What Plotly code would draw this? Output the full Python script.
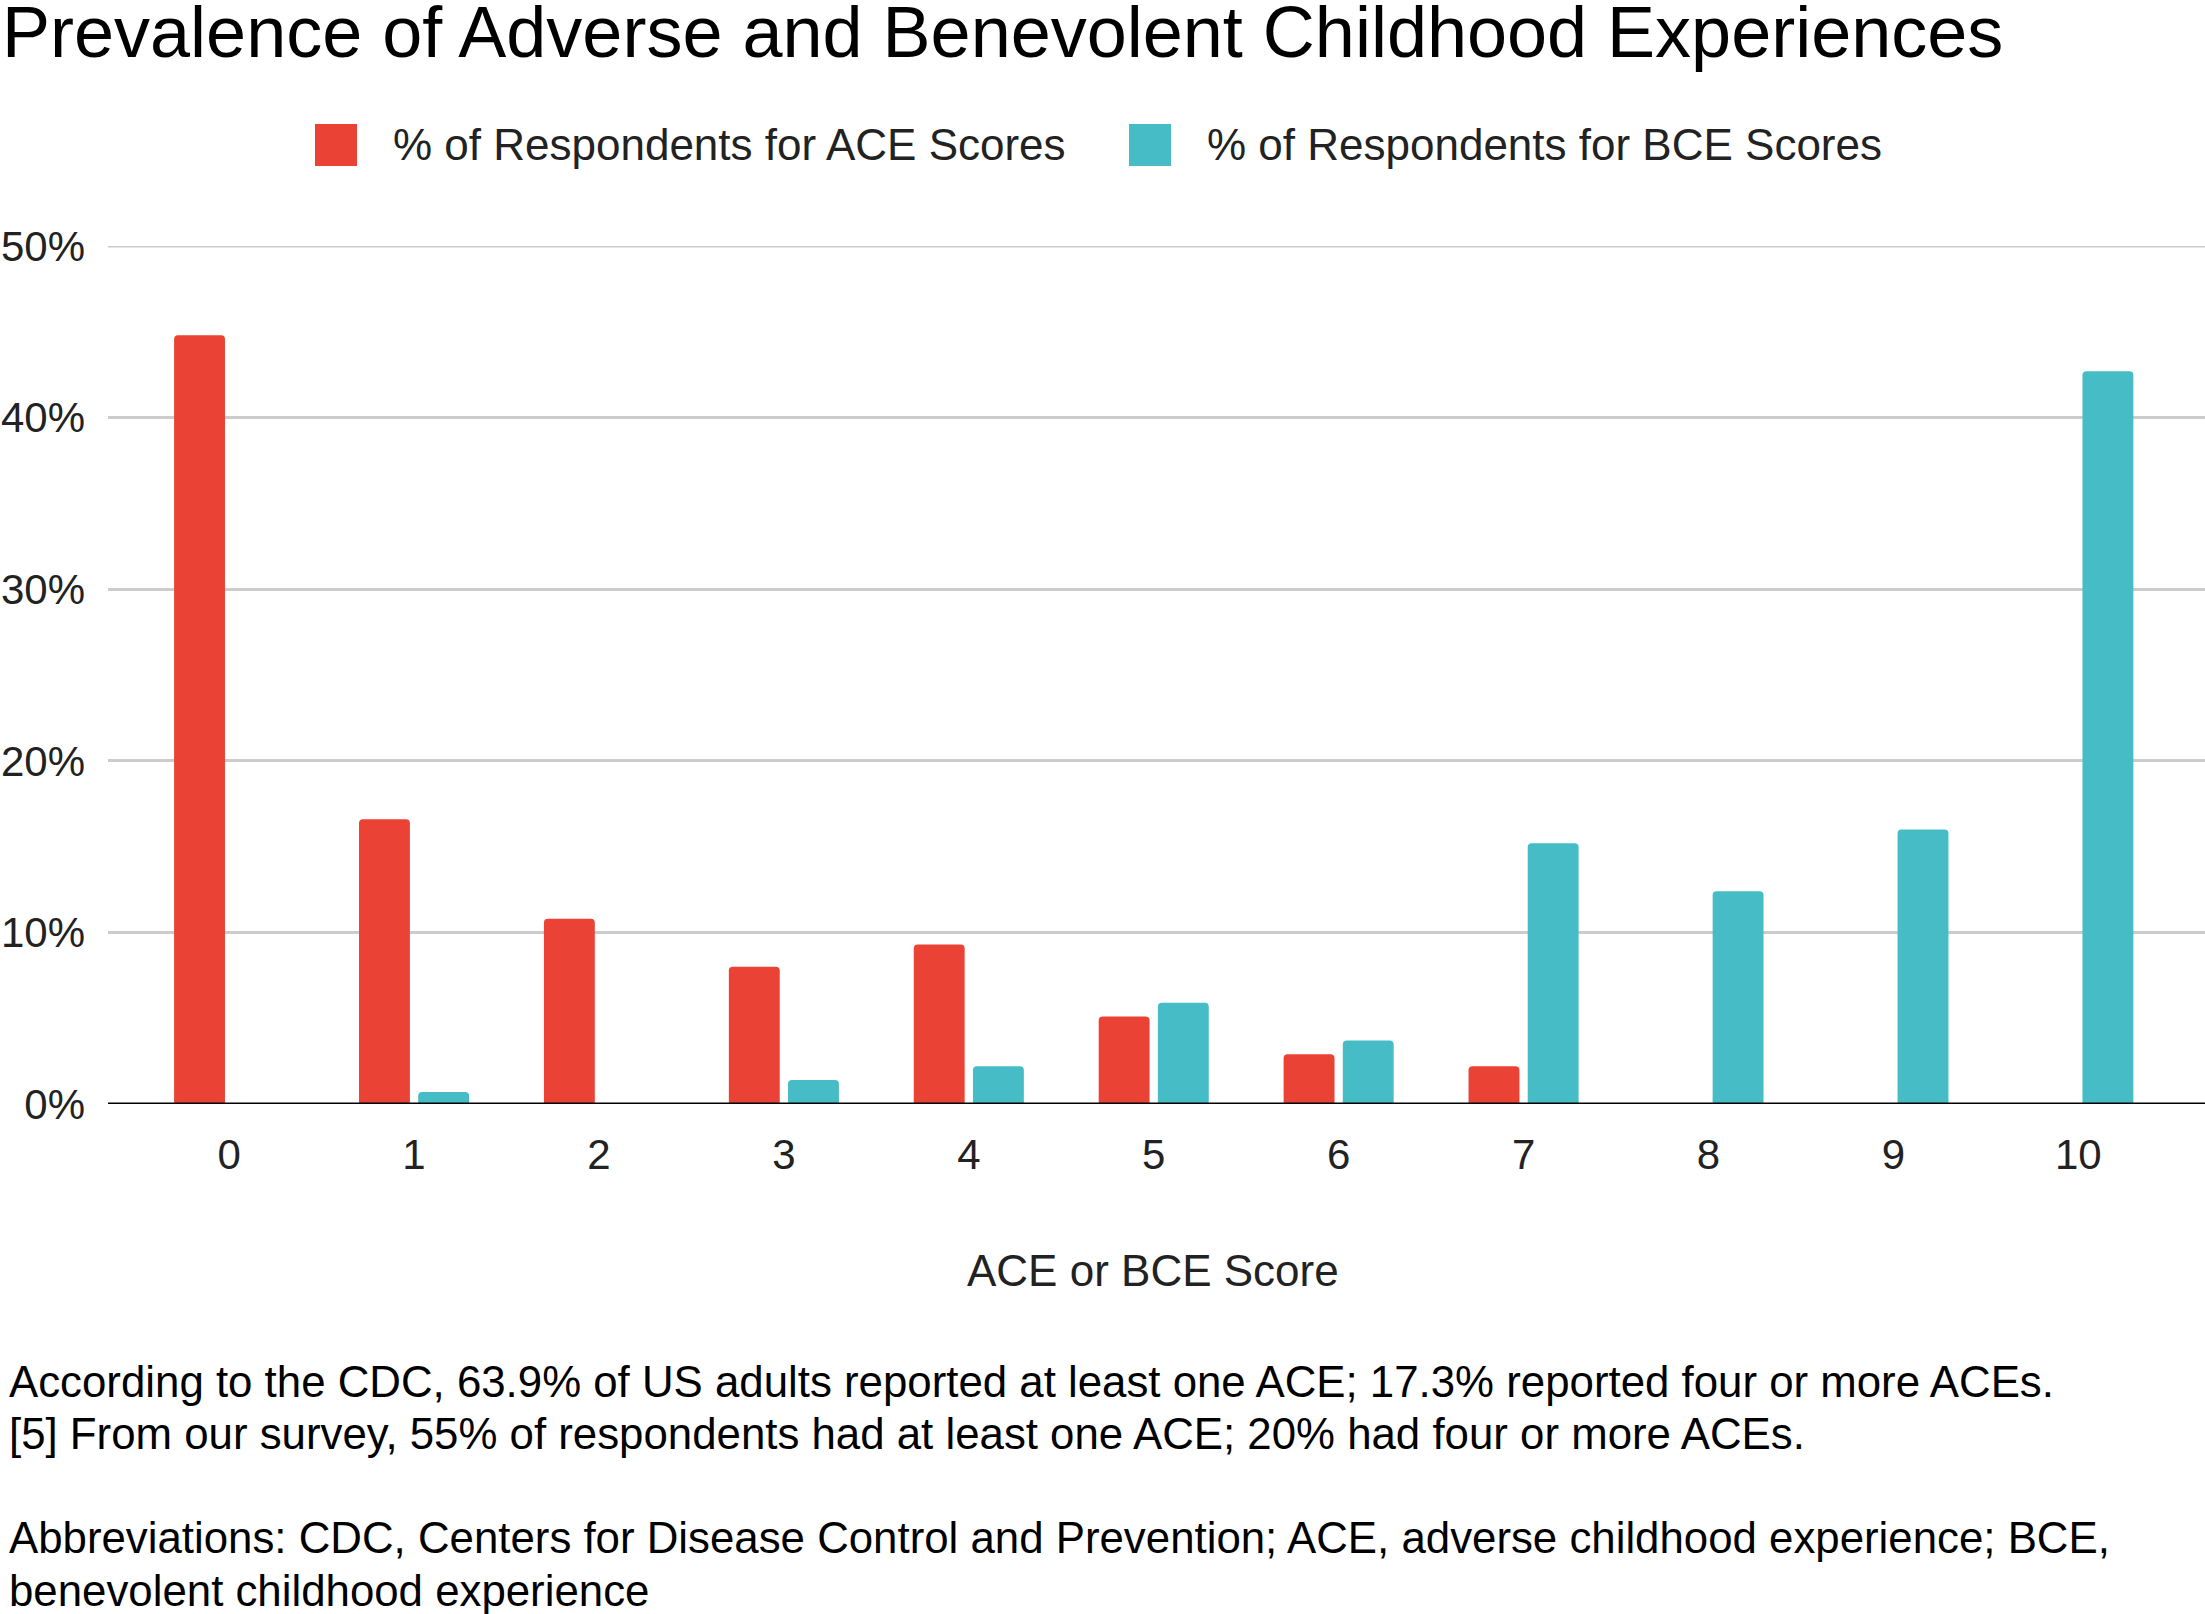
import plotly.graph_objects as go

scores = [0, 1, 2, 3, 4, 5, 6, 7, 8, 9, 10]
tick_labels = ["0", "1", "2", "3", "4", "5", "6", "7", "8", "9", "10"]
ace_pct = [44.8, 16.6, 10.8, 8.0, 9.3, 5.1, 2.9, 2.2, 0, 0, 0]
bce_pct = [0, 0.7, 0, 1.4, 2.2, 5.9, 3.7, 15.2, 12.4, 16.0, 42.7]
y_ticks = [0, 10, 20, 30, 40, 50]
series_names = ["% of Respondents for ACE Scores", "% of Respondents for BCE Scores"]
colors = ["#EA4335", "#46BDC6"]
title_text = "Prevalence of Adverse and Benevolent Childhood Experiences"
x_title = "ACE or BCE Score"
notes = [
    "According to the CDC, 63.9% of US adults reported at least one ACE; 17.3% reported four or more ACEs.",
    "[5] From our survey, 55% of respondents had at least one ACE; 20% had four or more ACEs.",
    "Abbreviations: CDC, Centers for Disease Control and Prevention; ACE, adverse childhood experience; BCE,",
    "benevolent childhood experience",
]

W, H = 2205, 1614
PLOT_LEFT, PLOT_TOP, PLOT_BOTTOM = 108, 246, 1104
L, T, R = PLOT_LEFT, PLOT_TOP, 0
B = H - PLOT_BOTTOM
PH = H - T - B
PW = W - L - R
FONT = "Liberation Sans, Arial, sans-serif"


def py(pix):
    return (PLOT_BOTTOM - pix) / PH


def px(pix):
    return (pix - PLOT_LEFT) / PW


fig = go.Figure()
for name, vals, c in zip(series_names, [ace_pct, bce_pct], colors):
    fig.add_trace(go.Bar(x=scores, y=vals, name=name, marker=dict(color=c, line=dict(width=0)),
                         showlegend=False))

fig.update_layout(
    width=W, height=H,
    margin=dict(l=L, r=R, t=T, b=B, pad=0, autoexpand=False),
    paper_bgcolor="white", plot_bgcolor="white",
    font=dict(family=FONT, size=42, color="#222222"),
    barmode="group", bargap=0.36, bargroupgap=0.14, barcornerradius=4,
    xaxis=dict(range=[-0.655, 10.685], tickmode="array", tickvals=scores, ticktext=tick_labels,
               showgrid=False, zeroline=False, showline=False, ticks="", automargin=False,
               tickfont=dict(size=42, color="#222222"), ticklabelstandoff=22),
    yaxis=dict(range=[0, 50], tickmode="array", tickvals=y_ticks,
               ticktext=[f"{v}%" for v in y_ticks],
               showgrid=True, gridcolor="#CCCCCC", gridwidth=3, automargin=False,
               zeroline=False, showline=False, ticks="",
               tickfont=dict(size=42, color="#222222"), ticklabelstandoff=22),
)

# top gridline at 50% (edge of the plot area)
fig.add_shape(type="line", xref="paper", yref="y", x0=0, x1=1, y0=y_ticks[-1], y1=y_ticks[-1],
              line=dict(color="#CCCCCC", width=3), layer="below")
# zero baseline
fig.add_shape(type="line", xref="paper", yref="y", x0=0, x1=1, y0=0, y1=0,
              line=dict(color="black", width=3))

ann = []
ann.append(dict(text=title_text, xref="paper", yref="paper", x=px(0), y=py(32),
                xanchor="left", yanchor="middle", showarrow=False,
                font=dict(size=72, color="black", family=FONT)))
ann.append(dict(text=x_title, xref="paper", yref="paper", x=px(1153), y=py(1270),
                xanchor="center", yanchor="middle", showarrow=False,
                font=dict(size=44, color="#222222", family=FONT)))

# custom legend
legend_swatch_x = [315, 1129]
legend_text_x = [391, 1205]
for name, c, sx, tx in zip(series_names, colors, legend_swatch_x, legend_text_x):
    fig.add_shape(type="rect", xref="paper", yref="paper", x0=px(sx), x1=px(sx + 42),
                  y0=py(166), y1=py(124), fillcolor=c, line=dict(width=0))
    ann.append(dict(text=name, xref="paper", yref="paper", x=px(tx), y=py(145),
                    xanchor="left", yanchor="middle", showarrow=False,
                    font=dict(size=44, color="#222222", family=FONT)))

note_y = [1381, 1433, 1538, 1590]
for t, yy in zip(notes, note_y):
    ann.append(dict(text=t, xref="paper", yref="paper", x=px(7), y=py(yy),
                    xanchor="left", yanchor="middle", showarrow=False,
                    font=dict(size=43.8, color="black", family=FONT)))

fig.update_layout(annotations=ann)
fig.write_html("out.html", config={"displayModeBar": False},
               post_script="document.body.style.margin='0';")
